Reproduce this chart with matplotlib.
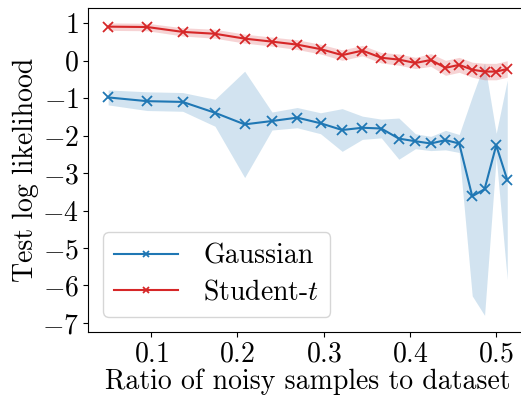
#!/usr/bin/env python3
import matplotlib
matplotlib.use('Agg')
import matplotlib.pyplot as plt
import numpy as np

plt.rc('font', family='serif', serif=['cmr10'], size=20)
plt.rc('mathtext', fontset='cm')
plt.rcParams['axes.formatter.use_mathtext'] = True
plt.rcParams['axes.unicode_minus'] = True

# ratio of noisy samples (k / (19 + k))
ratio = [0.0500, 0.0952, 0.1364, 0.1739, 0.2083, 0.2400, 0.2692, 0.2963, 0.3214, 0.3448,
         0.3667, 0.3871, 0.4063, 0.4242, 0.4412, 0.4571, 0.4722, 0.4865, 0.5000, 0.5128]

gauss_mean = [-0.98, -1.08, -1.10, -1.39, -1.70, -1.61, -1.52, -1.67, -1.85, -1.79,
              -1.81, -2.08, -2.15, -2.21, -2.12, -2.21, -3.62, -3.43, -2.26, -3.18]
gauss_std = [0.20, 0.25, 0.25, 0.36, 1.42, 0.24, 0.27, 0.28, 0.57, 0.31,
             0.25, 0.55, 0.20, 0.19, 0.26, 0.24, 2.66, 3.37, 0.32, 2.66]

student_mean = [0.91, 0.90, 0.77, 0.72, 0.59, 0.51, 0.43, 0.31, 0.15, 0.27,
                0.08, 0.03, -0.06, 0.02, -0.19, -0.11, -0.24, -0.29, -0.29, -0.22]
student_std = [0.10, 0.10, 0.11, 0.12, 0.12, 0.12, 0.13, 0.13, 0.14, 0.14,
               0.14, 0.15, 0.15, 0.17, 0.20, 0.20, 0.20, 0.22, 0.22, 0.22]

series = [('Gaussian', gauss_mean, gauss_std, 'tab:blue'),
          ('Student-$t$', student_mean, student_std, 'tab:red')]

fig = plt.figure(figsize=(5.21, 3.96), dpi=100)
ax = fig.add_axes([0.169, 0.162, 0.843, 0.818])

x = np.array(ratio)
for name, m, s, c in series:
  m = np.array(m)
  s = np.array(s)
  ax.plot(x, m, color=c, marker='x', lw=1.5, ms=7, mew=1.3, label=name)
  ax.fill_between(x, m - s, m + s, color=c, alpha=0.2, lw=0)

ax.set_xlim(0.0267, 0.536)
ax.set_ylim(-7.24, 1.41)
ax.set_yticks(range(-7, 2))
ax.set_xticks([0.1, 0.2, 0.3, 0.4, 0.5])
ax.spines['right'].set_visible(False)
ax.set_xlabel('Ratio of noisy samples to dataset', fontsize=20, labelpad=1)
ax.set_ylabel('Test log likelihood', fontsize=20, labelpad=2)
ax.tick_params(labelsize=20, pad=3)
ax.legend(loc='lower left', fontsize=20, handlelength=2.3, borderaxespad=0.55,
          markerscale=0.7, labelspacing=0.35, handletextpad=0.9)

plt.savefig('out.png', dpi=100)
